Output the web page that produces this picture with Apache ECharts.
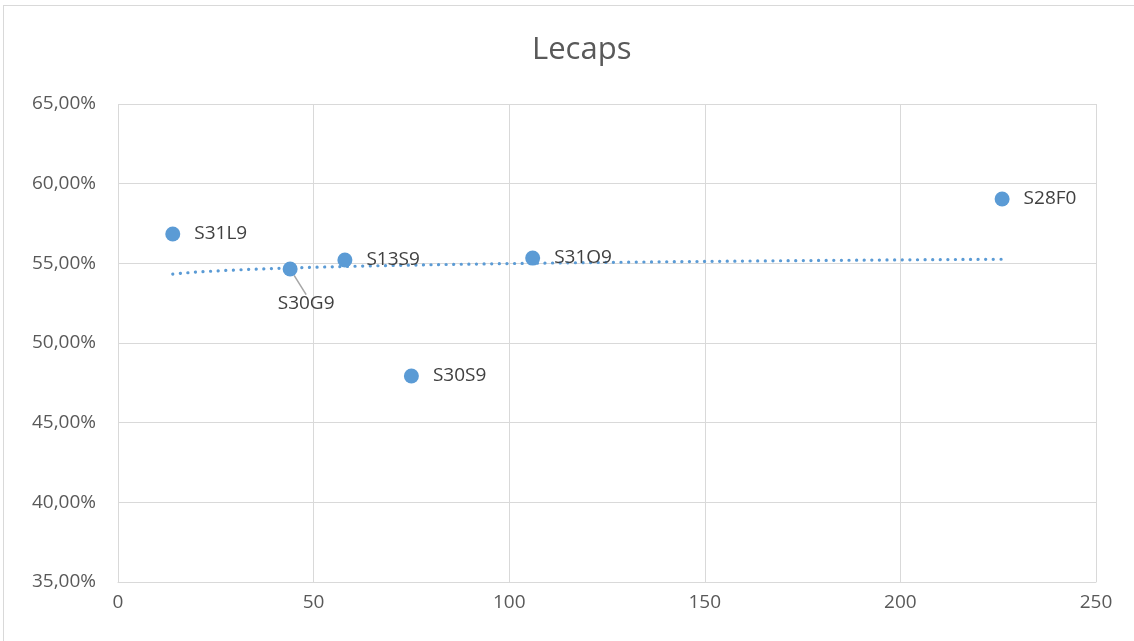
<!DOCTYPE html>
<html>
<head>
<meta charset="utf-8">
<script src="https://cdn.jsdelivr.net/npm/echarts@6/dist/echarts.min.js"></script>
<style>
  html, body { margin: 0; padding: 0; background: #fff; }
  #main { position: absolute; left: 3px; top: 5px; width: 1140px; height: 650px; border: 1px solid #d9d9d9; box-sizing: border-box; }
  #chart { position: absolute; left: 0; top: 0; width: 1134px; height: 641px; }
</style>
</head>
<body>
<div id="main"></div>
<div id="chart"></div>
<script>
// bond names, days (x) and yields in % (y)
const names = ["S31L9", "S30G9", "S13S9", "S30S9", "S31O9", "S28F0"];
const days = [14, 44, 58, 75, 106, 226];
const yields = [56.84, 54.64, 55.21, 47.93, 55.33, 59.04];

// logarithmic trendline (least squares on ln x), as Excel does
function logTrend(xs, ys) {
  const n = xs.length;
  const lx = xs.map(Math.log);
  const mx = lx.reduce((a, b) => a + b, 0) / n;
  const my = ys.reduce((a, b) => a + b, 0) / n;
  let sxy = 0, sxx = 0;
  for (let i = 0; i < n; i++) {
    sxy += (lx[i] - mx) * (ys[i] - my);
    sxx += (lx[i] - mx) * (lx[i] - mx);
  }
  const b = sxy / sxx, a = my - b * mx;
  const lo = Math.min(...xs), hi = Math.max(...xs);
  const out = [];
  for (let x = lo; x <= hi; x += 2) out.push([x, a + b * Math.log(x)]);
  out.push([hi, a + b * Math.log(hi)]);
  return out;
}

const pts = names.map((n, i) => {
  const item = { name: n, value: [days[i], yields[i]] };
  if (n === "S30G9") {
    item.label = { position: "bottom", distance: 18 };
    item.labelLine = { show: true };
  }
  return item;
});

const myChart = echarts.init(document.getElementById("chart"));
const font = "Open Sans, Noto Sans, sans-serif";
myChart.setOption({
  animation: false,
  title: {
    text: "Lecaps",
    left: 527,
    top: 30,
    textStyle: { fontFamily: font, fontSize: 31, fontWeight: "normal", color: "#595959" }
  },
  grid: { left: 118, right: 38, top: 104, bottom: 59 },
  xAxis: {
    type: "value",
    min: 0, max: 250, interval: 50,
    axisLine: { show: true, lineStyle: { color: "#d9d9d9" } },
    axisTick: { show: false },
    splitLine: { show: true, lineStyle: { color: "#d9d9d9", width: 1 } },
    axisLabel: { fontFamily: font, fontSize: 19, color: "#595959", margin: 11 }
  },
  yAxis: {
    type: "value",
    min: 35, max: 65, interval: 5,
    axisLine: { show: false },
    axisTick: { show: false },
    splitLine: { lineStyle: { color: "#d9d9d9", width: 1 } },
    axisLabel: {
      fontFamily: font, fontSize: 19, color: "#595959", margin: 22,
      formatter: v => v.toFixed(2).replace(".", ",") + "%"
    }
  },
  series: [
    {
      type: "line",
      data: logTrend(days, yields),
      showSymbol: false,
      smooth: true,
      silent: true,
      lineStyle: { color: "#5b9bd5", width: 3.2, type: [0.1, 7.5], cap: "round" },
      z: 1
    },
    {
      type: "scatter",
      data: pts,
      symbolSize: 15,
      itemStyle: { color: "#5b9bd5", opacity: 1 },
      label: {
        show: true,
        position: "right",
        distance: 14,
        formatter: p => p.name,
        fontFamily: font, fontSize: 19, color: "#404040"
      },
      labelLine: { lineStyle: { color: "#a6a6a6", width: 1.5 } },
      labelLayout: p => p.dataIndex === 1 ? { dx: 16, dy: 0 } : {},
      z: 2
    }
  ]
});
</script>
</body>
</html>
